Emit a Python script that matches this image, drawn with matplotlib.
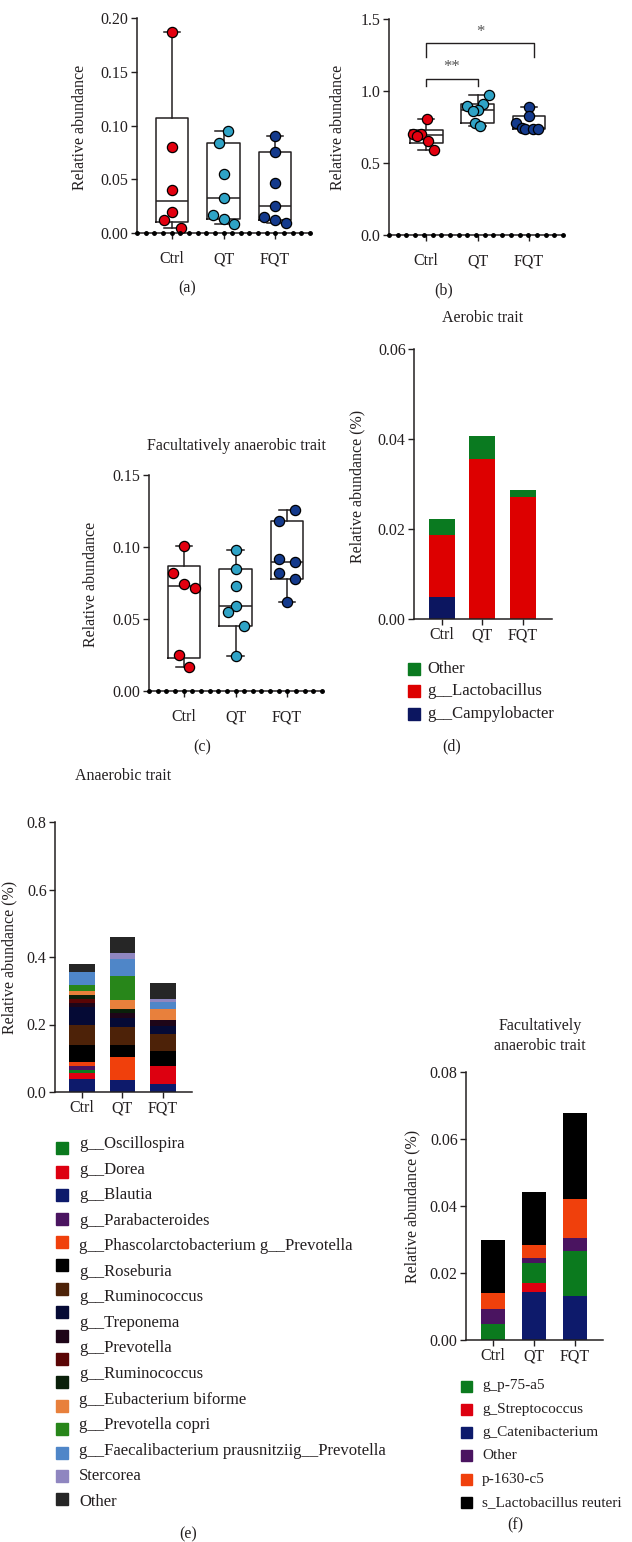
import numpy as np
import matplotlib
matplotlib.use("Agg")
import matplotlib.pyplot as plt
from matplotlib.patches import Rectangle

plt.rcParams['font.family'] = ['Liberation Serif', 'DejaVu Serif']
plt.rcParams['font.size'] = 11.5
TXT = '#231f20'
LEG = 12

W, H = 632, 1542
groups = ['Ctrl', 'QT', 'FQT']
group_colors = ['#e3000f', '#2fa3c6', '#143a8c']

# (a) relative abundance
a_ctrl = [0.187, 0.080, 0.040, 0.020, 0.012, 0.0047]
a_qt = [0.0946, 0.0837, 0.0552, 0.0322, 0.0171, 0.0133, 0.0084]
a_fqt = [0.0902, 0.0753, 0.0465, 0.0248, 0.0149, 0.0124, 0.0093]
# (b) relative abundance
b_ctrl = [0.803, 0.701, 0.699, 0.690, 0.655, 0.590]
b_qt = [0.972, 0.910, 0.898, 0.866, 0.863, 0.775, 0.759]
b_fqt = [0.891, 0.826, 0.775, 0.745, 0.738, 0.735, 0.733]
# (c) facultatively anaerobic trait
c_ctrl = [0.1009, 0.0817, 0.0741, 0.0718, 0.0248, 0.0169]
c_qt = [0.0977, 0.0850, 0.0729, 0.0593, 0.0546, 0.0451, 0.0241]
c_fqt = [0.1257, 0.1181, 0.0914, 0.0894, 0.0817, 0.0775, 0.0620]

# horizontal spread of the dots (pixels), same order as the values
a_off = [[0, 0, 0, 0, -8, 9], [5, -5, 0, 0, -11, 0, 11], [0, 0, 0, 0, -11, 0, 11]]
b_off = [[1, -5, -13, -9, 2, 8], [11, 5, -11, 0, -5, -3, 2], [0, 0, -13, -7, -4, 4, 9]]
c_off = [[0, -11, 0, 11, -5, 5], [0, 0, 0, 0, -8, 9, 0], [8, -8, -8, 8, -8, 8, 0]]

# (d) aerobic trait
d_labels = ['Other', 'g__Lactobacillus', 'g__Campylobacter']
d_campylobacter = [0.0048, 0.0, 0.0]
d_lactobacillus = [0.0138, 0.0355, 0.0271]
d_other = [0.0036, 0.0051, 0.0015]

# (e) anaerobic trait, stacked bottom to top
e_blautia = [0.0385, 0.0346, 0.0237]
e_dorea = [0.0188, 0.0, 0.0543]
e_oscillospira = [0.0079, 0.0, 0.0]
e_parabacteroides = [0.0128, 0.0, 0.0]
e_phascolarcto = [0.0120, 0.0691, 0.0]
e_roseburia = [0.0494, 0.0365, 0.0435]
e_ruminococcus = [0.0602, 0.0523, 0.0494]
e_treponema = [0.0514, 0.0277, 0.0237]
e_prevotella = [0.0119, 0.0128, 0.0178]
e_ruminococcus2 = [0.0128, 0.0, 0.0]
e_unlabelled = [0.0119, 0.0119, 0.0]
e_eubacterium = [0.0128, 0.0277, 0.0336]
e_copri = [0.0178, 0.0701, 0.0]
e_faecali = [0.0385, 0.0514, 0.0217]
e_stercorea = [0.0, 0.0168, 0.0089]
e_other = [0.0237, 0.0474, 0.0454]
e_legend_text = ['g__Oscillospira', 'g__Dorea', 'g__Blautia', 'g__Parabacteroides',
                 'g__Phascolarctobacterium g__Prevotella', 'g__Roseburia', 'g__Ruminococcus',
                 'g__Treponema', 'g__Prevotella', 'g__Ruminococcus', 'g__Eubacterium biforme',
                 'g__Prevotella copri', 'g__Faecalibacterium prausnitziig__Prevotella',
                 'Stercorea', 'Other']

# (f) facultatively anaerobic trait, stacked bottom to top
f_catenibacterium = [0.0, 0.0142, 0.0131]
f_streptococcus = [0.0, 0.0027, 0.0]
f_p75a5 = [0.0048, 0.0062, 0.0134]
f_other = [0.0045, 0.0014, 0.0040]
f_p1630c5 = [0.0046, 0.0039, 0.0115]
f_reuteri = [0.0160, 0.0159, 0.0258]
f_legend_text = ['g_p-75-a5', 'g_Streptococcus', 'g_Catenibacterium', 'Other',
                 'p-1630-c5', 's_Lactobacillus reuteri']

fig = plt.figure(figsize=(W / 100, H / 100), dpi=100)


def px_axes(left, top, right, bottom):
    return fig.add_axes([left / W, 1 - bottom / H, (right - left) / W, (bottom - top) / H])


def fig_text(x, y, s, **kw):
    kw.setdefault('ha', 'center')
    kw.setdefault('va', 'center')
    kw.setdefault('color', TXT)
    fig.text(x / W, 1 - y / H, s, **kw)


def style_axes(ax, xlim, ylim, yticks, fmt, xpad):
    ax.set_xlim(*xlim)
    ax.set_ylim(*ylim)
    ax.set_yticks(yticks)
    ax.set_yticklabels([fmt.format(t) for t in yticks])
    ax.set_xticks([1, 2, 3])
    ax.set_xticklabels(groups)
    for s in ['top', 'right']:
        ax.spines[s].set_visible(False)
    for s in ['left', 'bottom']:
        ax.spines[s].set_linewidth(1.1)
        ax.spines[s].set_color('#231f20')
    ax.tick_params(axis='y', length=4, width=1.0, pad=2, colors=TXT)
    ax.tick_params(axis='x', length=4, width=1.0, pad=xpad, colors=TXT)
    ax.set_facecolor('none')


def box_panel(ax, data, offsets, spacing_px, xlim):
    stats = []
    for vals in data:
        v = np.asarray(vals)
        q1, med, q3 = np.percentile(v, [25, 50, 75], method='weibull')
        stats.append(dict(med=med, q1=q1, q3=q3, whislo=v.min(), whishi=v.max()))
    line = dict(color='#231f20', linewidth=1.1)
    ax.bxp(stats, positions=[1, 2, 3], widths=0.64, capwidths=0.32, showfliers=False,
           boxprops=line, medianprops=line, whiskerprops=line, capprops=line)
    for i, (vals, offs) in enumerate(zip(data, offsets)):
        xs = i + 1 + np.asarray(offs) / spacing_px
        ax.scatter(xs, vals, s=54, color=group_colors[i], edgecolors='black',
                   linewidths=0.9, zorder=3, clip_on=False)
    xd = np.linspace(xlim[0], xlim[1], 21)
    ax.plot(xd, np.zeros_like(xd), 'o', ms=2.5, color='black', clip_on=False, zorder=4)


# ---- (a)
ax = px_axes(137, 18, 310, 233)
xl = (0.32, 3.68)
box_panel(ax, [a_ctrl, a_qt, a_fqt], a_off, 51.5, xl)
style_axes(ax, xl, (0, 0.20), [0, 0.05, 0.10, 0.15, 0.20], '{:.2f}', 9)
fig_text(80, 127, 'Relative abundance', rotation=90)
fig_text(187, 288, '(a)')

# ---- (b)
ax = px_axes(389, 19, 563, 235)
xl = (0.28, 3.66)
box_panel(ax, [b_ctrl, b_qt, b_fqt], b_off, 51.5, xl)
style_axes(ax, xl, (0, 1.5), [0, 0.5, 1.0, 1.5], '{:.1f}', 9)
for x0, x1, yb, yt, star, ys in [(1, 2, 1.035, 1.083, '**', 1.17), (1, 3.1, 1.234, 1.331, '*', 1.41)]:
    ax.plot([x0, x0, x1, x1], [yb, yt, yt, yb], color='#231f20', lw=1.0, clip_on=False)
    ax.text((x0 + x1) / 2, ys, star, ha='center', va='center', color='#555555', fontsize=12)
fig_text(338, 127, 'Relative abundance', rotation=90)
fig_text(444, 290, '(b)')

# ---- (c)
ax = px_axes(149, 475, 322, 691)
xl = (0.32, 3.68)
box_panel(ax, [c_ctrl, c_qt, c_fqt], c_off, 51.5, xl)
style_axes(ax, xl, (0, 0.15), [0, 0.05, 0.10, 0.15], '{:.2f}', 9)
fig_text(236, 446, 'Facultatively anaerobic trait')
fig_text(91, 584, 'Relative abundance', rotation=90)
fig_text(202, 747, '(c)')

# ---- (d)
ax = px_axes(414, 349, 552, 619)
x = np.arange(1, 4)
d_series = [d_campylobacter, d_lactobacillus, d_other]
d_colors = ['#0c1660', '#dd0000', '#0a7a20']
bottom = np.zeros(3)
for vals, col in zip(d_series, d_colors):
    ax.bar(x, vals, width=0.64, bottom=bottom, color=col, linewidth=0)
    bottom += np.asarray(vals)
style_axes(ax, (0.31, 3.72), (0, 0.06), [0, 0.02, 0.04, 0.06], '{:.2f}', 2)
fig_text(483, 318, 'Aerobic trait')
fig_text(357, 486, 'Relative abundance (%)', rotation=90)
for i, (lab, col) in enumerate(zip(d_labels, d_colors[::-1])):
    y = 669 + i * 22.5
    fig.patches.append(Rectangle(((414 - 6) / W, 1 - (y + 6) / H), 12 / W, 12 / H,
                                 color=col, transform=fig.transFigure, figure=fig))
    fig_text(427, y, lab, ha='left', fontsize=LEG)
fig_text(452, 746, '(d)')

# ---- (e)
ax = px_axes(55, 822, 192, 1092)
e_series = [e_blautia, e_dorea, e_oscillospira, e_parabacteroides, e_phascolarcto,
            e_roseburia, e_ruminococcus, e_treponema, e_prevotella, e_ruminococcus2,
            e_unlabelled, e_eubacterium, e_copri, e_faecali, e_stercorea, e_other]
e_colors = ['#0d1a6b', '#dd0010', '#0b7a1e', '#4a1460', '#f0400c', '#000000', '#4d2208',
            '#050a35', '#1e0518', '#5a0505', '#0a200a', '#e8803c', '#28861a', '#4f86c8',
            '#8f86c0', '#262626']
bottom = np.zeros(3)
for vals, col in zip(e_series, e_colors):
    ax.bar(x, vals, width=0.64, bottom=bottom, color=col, linewidth=0)
    bottom += np.asarray(vals)
style_axes(ax, (0.33, 3.72), (0, 0.8), [0, 0.2, 0.4, 0.6, 0.8], '{:.1f}', 2)
fig_text(123, 776, 'Anaerobic trait')
fig_text(9, 957, 'Relative abundance (%)', rotation=90)
# legend squares (16) and texts (15) as printed in the source figure
sq_order = [2, 1, 0] + list(range(3, 16))
for i, k in enumerate(sq_order):
    y = 1148.3 + i * 23.4
    fig.patches.append(Rectangle(((62 - 6) / W, 1 - (y + 6) / H), 12 / W, 12 / H,
                                 color=e_colors[k], transform=fig.transFigure, figure=fig))
for i, lab in enumerate(e_legend_text):
    fig_text(79, 1144 + i * 25.55, lab, ha='left', fontsize=LEG)
fig_text(188, 1534, '(e)')

# ---- (f)
ax = px_axes(466, 1072, 603, 1340)
f_series = [f_catenibacterium, f_streptococcus, f_p75a5, f_other, f_p1630c5, f_reuteri]
f_colors = ['#0d1a6b', '#dd0010', '#0b7a1e', '#4a1460', '#f0400c', '#000000']
bottom = np.zeros(3)
for vals, col in zip(f_series, f_colors):
    ax.bar(x, vals, width=0.59, bottom=bottom, color=col, linewidth=0)
    bottom += np.asarray(vals)
style_axes(ax, (0.34, 3.68), (0, 0.08), [0, 0.02, 0.04, 0.06, 0.08], '{:.2f}', 2)
fig_text(540, 1036, 'Facultatively\nanaerobic trait', linespacing=1.25)
fig_text(412, 1206, 'Relative abundance (%)', rotation=90)
f_leg_colors = [f_colors[2], f_colors[1], f_colors[0], f_colors[3], f_colors[4], f_colors[5]]
for i, (lab, col) in enumerate(zip(f_legend_text, f_leg_colors)):
    y = 1386 + i * 23.3
    fig.patches.append(Rectangle(((466.5 - 5.5) / W, 1 - (y + 5.5) / H), 11 / W, 11 / H,
                                 color=col, transform=fig.transFigure, figure=fig))
    fig_text(482, y, lab, ha='left', fontsize=11)
fig_text(515, 1525, '(f)')

fig.savefig('out.png', dpi=100)
